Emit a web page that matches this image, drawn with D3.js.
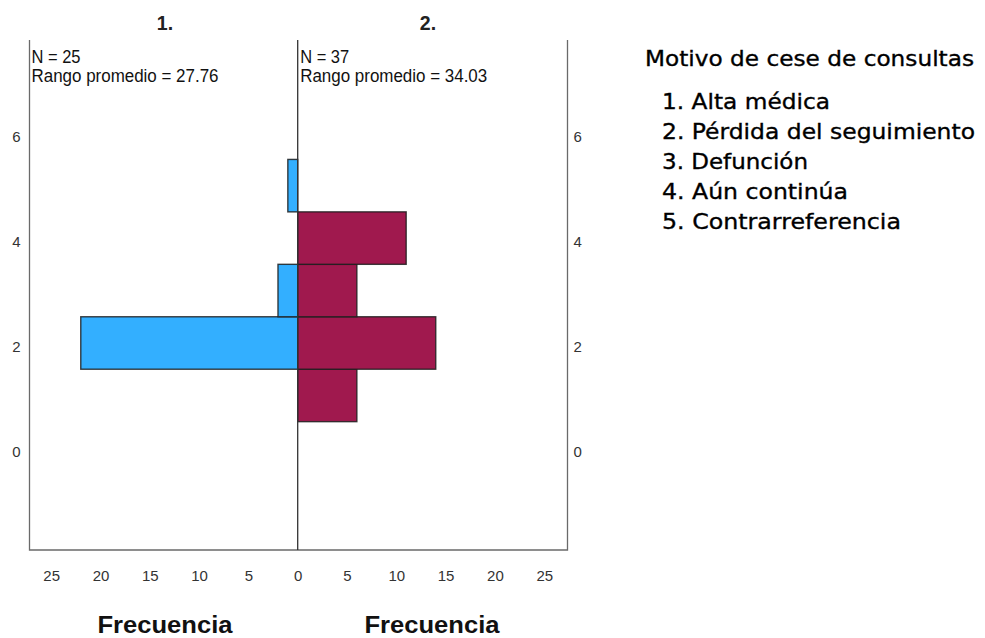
<!DOCTYPE html>
<html>
<head>
<meta charset="utf-8">
<script src="https://cdn.jsdelivr.net/npm/d3@7"></script>
<style>
html,body{margin:0;padding:0;background:#fff;}
svg{display:block;}
</style>
</head>
<body>
<svg id="chart" width="985" height="638"></svg>
<script>
// Data
const bins = [1, 2, 3, 4, 5];
const group1Counts = [0, 22, 2, 0, 1];   // "1." N = 25
const group2Counts = [6, 14, 6, 11, 0];  // "2." N = 37
const panelTitles = ["1.", "2."];
const panelStats = [
  ["N = 25", "Rango promedio = 27.76"],
  ["N = 37", "Rango promedio = 34.03"]
];
const xTicks = [0, 5, 10, 15, 20, 25];
const yTicks = [0, 2, 4, 6];
const xTitle = "Frecuencia";
const legendTitle = "Motivo de cese de consultas";
const legendItems = ["1. Alta médica", "2. Pérdida del seguimiento", "3. Defunción", "4. Aún continúa", "5. Contrarreferencia"];

(function () {
const svg = d3.select("#chart");
const font = "'Liberation Sans', Arial, sans-serif";

const cx = 297.7, pLeft = 29.5, pRight = 567.5, pTop = 40, pBottom = 550;
const xL = d3.scaleLinear().domain([0, 27.2]).range([cx, pLeft]);
const xR = d3.scaleLinear().domain([0, 27.36]).range([cx, pRight]);
const y = d3.scaleLinear().domain([-1.947, 7.777]).range([pBottom, pTop]);

// bars
const g1 = bins.map((b, i) => ({b, c: group1Counts[i]})).filter(d => d.c > 0);
const g2 = bins.map((b, i) => ({b, c: group2Counts[i]})).filter(d => d.c > 0);

svg.append("g").selectAll("rect").data(g1).join("rect")
  .attr("x", d => xL(d.c)).attr("width", d => xL(0) - xL(d.c))
  .attr("y", d => y(d.b + 0.5)).attr("height", d => y(d.b - 0.5) - y(d.b + 0.5))
  .attr("fill", "#33afff").attr("stroke", "#1f1f1f").attr("stroke-width", 1.4).attr("stroke-opacity", 0.85);

svg.append("g").selectAll("rect").data(g2).join("rect")
  .attr("x", xR(0)).attr("width", d => xR(d.c) - xR(0))
  .attr("y", d => y(d.b + 0.5)).attr("height", d => y(d.b - 0.5) - y(d.b + 0.5))
  .attr("fill", "#a0194e").attr("stroke", "#1f1f1f").attr("stroke-width", 1.4).attr("stroke-opacity", 0.85);

// frame lines
const frame = svg.append("g").attr("stroke", "#6a6a6a").attr("stroke-width", 1.3).attr("fill", "none");
frame.append("path").attr("d", `M${pLeft},${pTop}V${pBottom}H${pRight}V${pTop}`);
frame.append("line").attr("x1", cx).attr("x2", cx).attr("y1", pTop).attr("y2", pBottom).attr("stroke", "#333");

// x axes (labels only)
const xAxisL = d3.axisBottom(xL).tickValues(xTicks).tickSize(0).tickPadding(0);
const xAxisR = d3.axisBottom(xR).tickValues(xTicks.filter(v => v > 0)).tickSize(0).tickPadding(0);
[xAxisL, xAxisR].forEach(ax => {
  const g = svg.append("g").attr("transform", `translate(0,${pBottom})`).call(ax);
  g.select(".domain").remove();
  g.selectAll("text").attr("font-family", font).attr("font-size", 15).attr("fill", "#333")
    .attr("dy", 0).attr("y", 31);
});

// y axes (labels only)
const yAxisL = d3.axisLeft(y).tickValues(yTicks).tickSize(0).tickPadding(0);
const yAxisR = d3.axisRight(y).tickValues(yTicks).tickSize(0).tickPadding(0);
let gl = svg.append("g").attr("transform", `translate(${pLeft},0)`).call(yAxisL);
gl.select(".domain").remove();
gl.selectAll("text").attr("font-family", font).attr("font-size", 15).attr("fill", "#333")
  .attr("x", -9).attr("dy", 0).attr("y", 8.5);
let gr = svg.append("g").attr("transform", `translate(${pRight},0)`).call(yAxisR);
gr.select(".domain").remove();
gr.selectAll("text").attr("font-family", font).attr("font-size", 15).attr("fill", "#333")
  .attr("x", 6).attr("dy", 0).attr("y", 8.5);

// panel titles
const panelCenters = [165, 428];
panelTitles.forEach((t, i) => {
  svg.append("text").attr("x", panelCenters[i]).attr("y", 29.5).attr("text-anchor", "middle")
    .attr("font-family", font).attr("font-weight", "bold").attr("font-size", 19.5).attr("fill", "#222")
    .text(t);
});

// stats
const statX = [pLeft + 2, cx + 2.5];
panelStats.forEach((lines, i) => {
  lines.forEach((l, j) => {
    svg.append("text").attr("x", statX[i]).attr("y", 63 + j * 18.6)
      .attr("font-family", font).attr("font-size", 17.5).attr("fill", "#111")
      .attr("textLength", j === 0 ? 49 : 187).attr("lengthAdjust", "spacingAndGlyphs")
      .text(l);
  });
});

// x titles
[165, 432].forEach(c => {
  svg.append("text").attr("x", c).attr("y", 633).attr("text-anchor", "middle")
    .attr("font-family", font).attr("font-weight", "bold").attr("font-size", 24).attr("fill", "#111")
    .attr("textLength", 135).attr("lengthAdjust", "spacingAndGlyphs")
    .text(xTitle);
});

// legend
const lf = "'DejaVu Sans', Verdana, sans-serif";
const legendWidths = [168, 313, 146, 186, 239];
svg.append("text").attr("x", 645).attr("y", 65.5).attr("font-family", lf).attr("font-size", 21.5)
  .attr("fill", "#000").attr("stroke", "#000").attr("stroke-width", 0.35)
  .attr("textLength", 329).attr("lengthAdjust", "spacingAndGlyphs").text(legendTitle);
svg.append("g").selectAll("text").data(legendItems).join("text")
  .attr("x", 662).attr("y", (d, i) => 109 + i * 30)
  .attr("font-family", lf).attr("font-size", 21.5).attr("fill", "#000")
  .attr("stroke", "#000").attr("stroke-width", 0.35)
  .attr("textLength", (d, i) => legendWidths[i]).attr("lengthAdjust", "spacingAndGlyphs")
  .text(d => d);
})();
</script>
</body>
</html>
